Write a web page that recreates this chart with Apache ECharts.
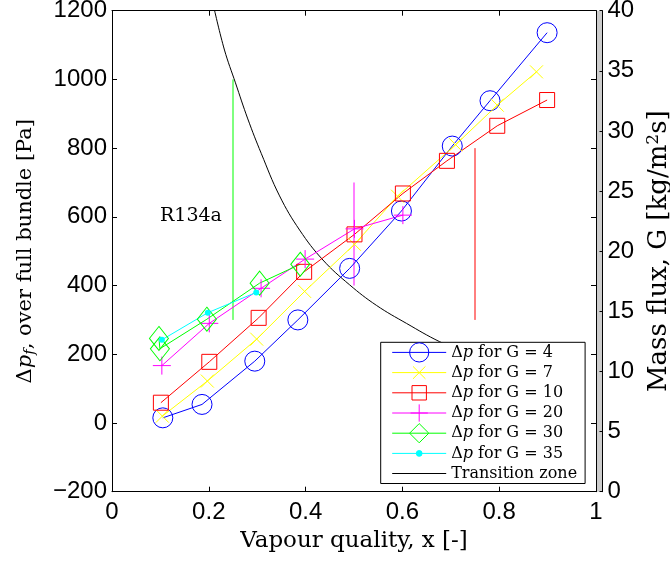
<!DOCTYPE html>
<html>
<head>
<meta charset="utf-8">
<script src="https://cdn.jsdelivr.net/npm/echarts@6/dist/echarts.min.js"></script>
<style>html,body{margin:0;padding:0;background:#fff}#c{width:670px;height:562px}</style>
</head>
<body>
<div id="c"></div>
<script>
// ---- data ----
const xTicks = [0, 0.2, 0.4, 0.6, 0.8, 1];
const dpTicks = [-200, 0, 200, 400, 600, 800, 1000, 1200];
const gTicks = [0, 5, 10, 15, 20, 25, 30, 35, 40];

const seriesNames = ['Δp for G = 4', 'Δp for G = 7', 'Δp for G = 10', 'Δp for G = 20', 'Δp for G = 30', 'Δp for G = 35'];

const g4 = [[0.105, 15], [0.186, 54], [0.295, 180], [0.384, 300], [0.491, 450], [0.598, 617], [0.703, 806], [0.781, 938], [0.899, 1136]];
const g7 = [[0.104, 20], [0.197, 122], [0.299, 244], [0.398, 383], [0.501, 520], [0.590, 660], [0.710, 810], [0.796, 925], [0.877, 1022]];
const g10 = [[0.101, 59], [0.201, 178], [0.303, 306], [0.397, 440], [0.501, 549], [0.601, 668], [0.692, 763], [0.796, 865], [0.899, 940]];
const g20 = [[0.103, 167], [0.201, 290], [0.308, 392], [0.399, 477], [0.501, 565], [0.601, 605]];
const g30 = [[0.097, 246], [0.099, 216], [0.196, 302], [0.305, 407], [0.389, 462]];
const g35 = [[0.103, 242], [0.198, 321], [0.298, 380]];

// transition zone curve (mass flux G vs x)
const transition = [[0.2117, 40.06], [0.2324, 36.73], [0.2551, 34.0], [0.2806, 31.0], [0.3083, 28.14], [0.3462, 24.6],
  [0.3876, 21.76], [0.4358, 19.27], [0.491, 17.2], [0.5462, 15.5], [0.6083, 14.0], [0.6772, 12.47], [0.74, 11.4]];

// vertical bars
const barGreen = [[0.25, 300], [0.25, 1000]];
const barMagenta = [[0.5, 400], [0.5, 700]];
const barRed = [[0.75, 300], [0.75, 800]];

const annotation = 'R134a';
// --------------------------------------

const serif = 'DejaVu Serif';
const sans = 'Liberation Sans';
const colors = ['#0000ff', '#ffff00', '#ff0000', '#ff00ff', '#00ff00', '#00ffff'];
// marker shapes drawn inside a 20x20 box (zero-length corner segments fix the box size)
const box = 'M0,0L0,0M20,20L20,20';
const dotSymbol = 'path://' + box + 'M7,10A3,3 0 1,0 13,10A3,3 0 1,0 7,10Z';
const xSymbol = 'path://' + box + 'M3.5,3.5L16.5,16.5M16.5,3.5L3.5,16.5';
const sqSymbol = 'path://' + box + 'M2.5,2.5L17.5,2.5L17.5,17.5L2.5,17.5Z';
const plusSymbol = 'path://' + box + 'M10,1L10,19M1,10L19,10';
const symbols = ['circle', xSymbol, sqSymbol, plusSymbol, 'diamond', dotSymbol];
const sizes = [20, 20, 20, 20, [19, 24], 20];
const datasets = [g4, g7, g10, g20, g30, g35];

const chart = echarts.init(document.getElementById('c'), null, {renderer: 'canvas'});

const dataSeries = datasets.map((d, i) => ({
  name: seriesNames[i],
  type: 'line',
  data: d,
  xAxisIndex: 0,
  yAxisIndex: 0,
  color: colors[i],
  symbol: symbols[i],
  symbolSize: sizes[i],
  showAllSymbol: true,
  lineStyle: {color: colors[i], width: 1},
  itemStyle: i === 5 ? {color: colors[i], borderColor: colors[i], borderWidth: 0}
                     : {color: 'rgba(0,0,0,0)', borderColor: colors[i], borderWidth: 1},
  emphasis: {disabled: true},
  animation: false,
  z: 3
}));

function bar(d, c) {
  return {type: 'line', data: d, symbol: 'none', color: c, itemStyle: {color: c},
    lineStyle: {color: c, width: 1, opacity: 1}, silent: true,
    emphasis: {disabled: true}, animation: false, xAxisIndex: 0, yAxisIndex: 0, z: 2};
}

const tickStyle = {lineStyle: {color: '#000', width: 1}};
const axisLine = {show: true, onZero: false, lineStyle: {color: '#000', width: 1}};

const option = {
  backgroundColor: '#fff',
  animation: false,
  grid: {left: 112, top: 10.7, right: 74, bottom: 70.3, containLabel: false, outerBoundsMode: 'none'},
  xAxis: [
    {type: 'value', min: 0, max: 1, interval: 0.2, position: 'bottom',
      axisLine: axisLine, axisTick: {show: true, inside: true, length: 5, ...tickStyle}, splitLine: {show: false},
      axisLabel: {fontFamily: sans, fontSize: 24, color: '#000', margin: 9, formatter: v => String(v)},
      name: 'Vapour quality, x [-]', nameLocation: 'middle', nameGap: 36,
      nameTextStyle: {fontFamily: serif, fontSize: 23, color: '#000'}},
    {type: 'value', min: 0, max: 1, interval: 0.2, position: 'top',
      axisLine: axisLine, axisTick: {show: true, inside: true, length: 5, ...tickStyle}, splitLine: {show: false},
      axisLabel: {show: false}}
  ],
  yAxis: [
    {type: 'value', min: -200, max: 1200, interval: 200, position: 'left',
      axisLine: axisLine, axisTick: {show: true, inside: true, length: 5, ...tickStyle}, splitLine: {show: false},
      axisLabel: {fontFamily: sans, fontSize: 24, color: '#000', margin: 5,
        formatter: v => String(v).replace('-', '\u2212')},
      name: '{n|Δ}{i|p}{s|f}{n|, over full bundle [Pa]}', nameLocation: 'middle', nameGap: 74, nameRotate: 90,
      nameTextStyle: {fontFamily: serif, fontSize: 21, color: '#000', rich: {
        n: {fontFamily: serif, fontSize: 21, color: '#000'},
        i: {fontFamily: serif, fontSize: 21, fontStyle: 'italic', color: '#000'},
        s: {fontFamily: serif, fontSize: 15, fontStyle: 'italic', color: '#000', padding: [10, 0, 0, 0]}
      }}},
    {type: 'value', min: -200, max: 1200, interval: 200, position: 'right', offset: 0,
      axisLine: axisLine, axisTick: {show: true, inside: true, length: 5, ...tickStyle}, splitLine: {show: false},
      axisLabel: {show: false}},
    {type: 'value', min: 0, max: 40, interval: 5, position: 'right', offset: 6.5,
      axisLine: axisLine, axisTick: {show: true, inside: true, length: 3, ...tickStyle}, splitLine: {show: false},
      axisLabel: {fontFamily: sans, fontSize: 24, color: '#000', margin: 5},
      name: '{n|Mass flux, G [kg/m}{p|2}{n|s]}', nameLocation: 'middle', nameGap: 36, nameRotate: 90,
      nameTextStyle: {fontFamily: serif, fontSize: 26, color: '#000', rich: {
        n: {fontFamily: serif, fontSize: 26, color: '#000'},
        p: {fontFamily: serif, fontSize: 17, color: '#000', padding: [0, 0, 12, 0]}
      }}}
  ],
  legend: {
    orient: 'vertical', left: 380.7, top: 342.3,
    data: seriesNames.concat([{name: 'Transition zone', itemStyle: {opacity: 0}}]),
    backgroundColor: '#fff', borderColor: '#000', borderWidth: 1, borderRadius: 0,
    padding: [0, 8, 0, 11], itemGap: 0, itemWidth: 54, itemHeight: 24,
    itemStyle: {borderWidth: 1},
    lineStyle: {width: 1},
    selectedMode: false,
    textStyle: {fontFamily: serif, fontSize: 16, lineHeight: 20, color: '#000', rich: {
      n: {fontFamily: serif, fontSize: 16, lineHeight: 20, color: '#000'},
      i: {fontFamily: serif, fontSize: 16, lineHeight: 20, fontStyle: 'italic', color: '#000'}
    }},
    formatter: n => n.startsWith('Δp') ? '{n|Δ}{i|p}{n|' + n.slice(2) + '}' : '{n|' + n + '}',
    z: 10
  },
  graphic: [
    {type: 'rect', shape: {x: 596.5, y: 10.7, width: 6, height: 481}, style: {fill: '#cccccc'}, silent: true, z: 0},
    {type: 'text', left: 160, top: 207, style: {text: annotation, font: '19px "DejaVu Serif"', fill: '#000'}, silent: true}
  ],
  series: [
    bar(barGreen, '#00ff00'),
    bar(barMagenta, '#ff00ff'),
    bar(barRed, '#ff0000'),
    {name: 'Transition zone', type: 'line', data: transition, smooth: 0.4, symbol: 'none', color: '#000',
      lineStyle: {color: '#000', width: 1}, xAxisIndex: 0, yAxisIndex: 2, silent: true,
      emphasis: {disabled: true}, animation: false, z: 2}
  ].concat(dataSeries)
};
chart.setOption(option);
</script>
</body>
</html>
